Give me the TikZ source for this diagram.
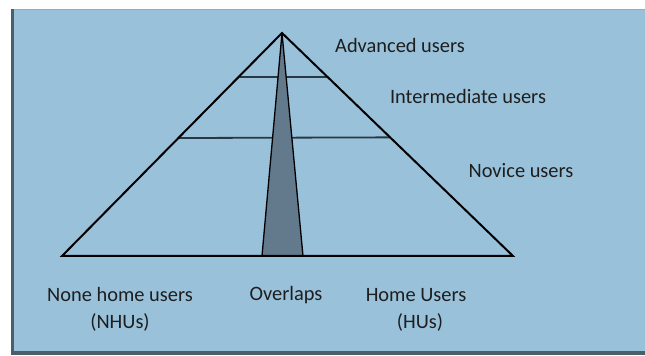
\documentclass[tikz,border=0pt]{standalone}
\usepackage{fontspec}
\setmainfont{Carlito}
\usetikzlibrary{calc}
\definecolor{panelblue}{RGB}{153,193,218}
\definecolor{paneledge}{RGB}{74,94,108}
\definecolor{wedgefill}{RGB}{98,122,140}
\definecolor{tierline}{RGB}{40,56,66}
\definecolor{labelink}{RGB}{30,30,30}
\tikzset{
  side/.style={line width=1pt, black, line join=miter},
  tier/.style={line width=0.9pt, tierline},
  wedge/.style={fill=wedgefill, draw=black, line width=0.65pt, line join=round},
  lbl/.style={text=labelink, inner sep=0pt, font=\fontsize{10.2}{12.5}\selectfont, align=center}
}
\begin{document}
\begin{tikzpicture}[x=0.5pt, y=-0.5pt]
  % canvas and framed panel
  \useasboundingbox (0,0) rectangle (645,356);
  \fill[white] (0,0) rectangle (645,356);
  \fill[panelblue] (12,9) rectangle (645,355);
  \draw[line width=0.3pt, gray!70] (12,9.3) -- (645,9.3);
  \fill[paneledge] (11,9) rectangle (14.5,355);
  \fill[paneledge] (11,351.5) rectangle (645,355);

  % pyramid corners
  \coordinate (apex) at (282,33);
  \coordinate (bl) at (62,256);
  \coordinate (br) at (513,256);
  \coordinate (wl) at (262,256);
  \coordinate (wr) at (303,256);

  % tier dividers
  \draw[tier] ($(apex)!0.197!(bl)$) -- ($(apex)!0.197!(br)$);
  \draw[tier] ($(apex)!0.471!(bl)$) -- ($(apex)!0.468!(br)$);

  % overlap wedge
  \draw[wedge] (apex) -- (wl) -- (wr) -- cycle;

  % pyramid outline
  \draw[side] (bl) -- (apex) -- (br) -- cycle;

  % tier labels
  \node[lbl] (adv) at (400,46) {Advanced users};
  \node[lbl] (inter) at (468,97) {Intermediate users};
  \node[lbl] (nov) at (521,171) {Novice users};

  % base labels
  \node[lbl] (nhu) at (120,295) {None home users};
  \node[lbl] (nhuab) at (120,322) {(NHUs)};
  \node[lbl] (ovl) at (286,295) {Overlaps};
  \node[lbl] (hu) at (416,295) {Home Users};
  \node[lbl] (huab) at (420,322) {(HUs)};
\end{tikzpicture}
\end{document}
